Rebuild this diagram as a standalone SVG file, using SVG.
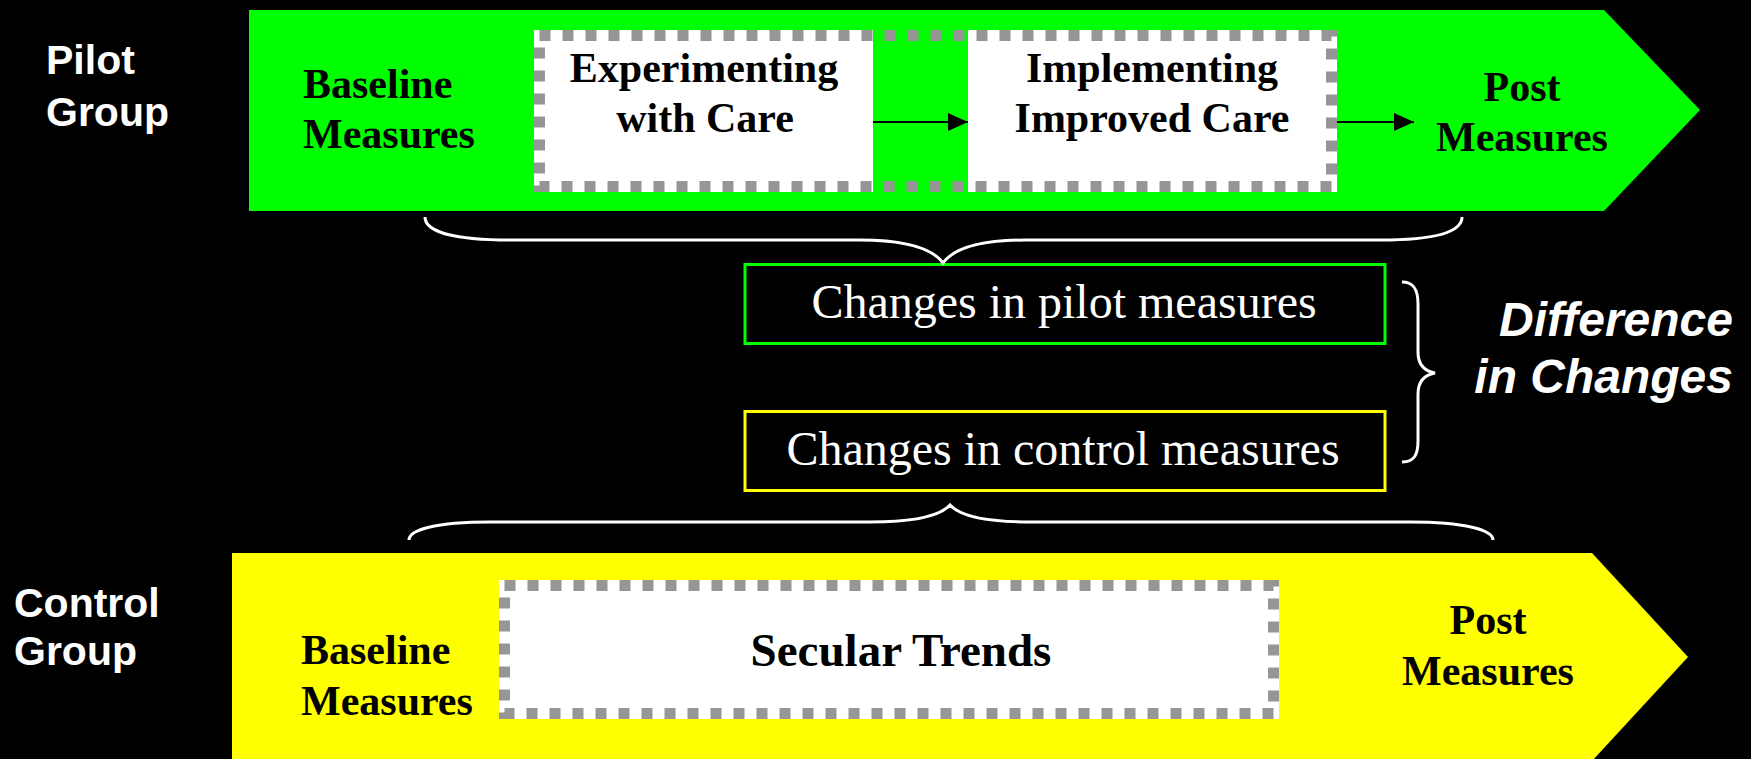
<svg xmlns="http://www.w3.org/2000/svg" width="1751" height="759" viewBox="0 0 1751 759">
  <style>
    .lbl { font-family: "Liberation Sans", Arial, sans-serif; font-weight: bold; fill: #ffffff; font-size: 41px; }
    .bold { font-family: "Liberation Serif", "Times New Roman", serif; font-weight: bold; fill: #000000; font-size: 42px; }
    .big { font-size: 47px; }
    .reg { font-family: "Liberation Serif", "Times New Roman", serif; fill: #ffffff; font-size: 48px; }
    .diff { font-family: "Liberation Sans", Arial, sans-serif; font-weight: bold; font-style: italic; fill: #ffffff; font-size: 48px; }
    .dash { fill: none; stroke: #969696; stroke-width: 11; stroke-dasharray: 11 12; }
    .brace { fill: none; stroke: #ffffff; stroke-width: 3; }
    .arrow { stroke: #000000; stroke-width: 2; fill: none; }
  </style>
  <defs>
    <marker id="ah" markerWidth="20" markerHeight="18" refX="20" refY="9" orient="auto" markerUnits="userSpaceOnUse">
      <path d="M0,0 L20,9 L0,18 Z" fill="#000000"/>
    </marker>
  </defs>
  <rect x="0" y="0" width="1751" height="759" fill="#000000"/>

  <g id="pilot-label">
    <text class="lbl" x="46" y="74">Pilot</text>
    <text class="lbl" x="46" y="126">Group</text>
  </g>
  <g id="control-label">
    <text class="lbl" x="14" y="617">Control</text>
    <text class="lbl" x="14" y="665">Group</text>
  </g>

  <g id="pilot-arrow">
    <polygon points="249,10 1604,10 1700,110 1604,211 249,211" fill="#00ff00"/>
    <text class="bold" x="303" y="98">Baseline</text>
    <text class="bold" x="303" y="148">Measures</text>
    <text class="bold" x="1522" y="101" text-anchor="middle">Post</text>
    <text class="bold" x="1522" y="151" text-anchor="middle">Measures</text>
  </g>

  <g id="pilot-steps">
    <rect x="534" y="30" width="339" height="162" fill="#ffffff"/>
    <rect x="968" y="30" width="369" height="162" fill="#ffffff"/>
    <rect class="dash" x="539.5" y="35.5" width="792" height="151"/>
  </g>
  <g id="experimenting">
    <text class="bold" x="704" y="82" text-anchor="middle">Experimenting</text>
    <text class="bold" x="705" y="132" text-anchor="middle">with Care</text>
  </g>
  <g id="implementing">
    <text class="bold" x="1152" y="82" text-anchor="middle">Implementing</text>
    <text class="bold" x="1152" y="132" text-anchor="middle">Improved Care</text>
  </g>

  <g id="control-arrow">
    <polygon points="232,553 1592,553 1688,657 1592,761 232,761" fill="#ffff00"/>
    <text class="bold" x="301" y="664">Baseline</text>
    <text class="bold" x="301" y="715">Measures</text>
    <text class="bold" x="1488" y="634" text-anchor="middle">Post</text>
    <text class="bold" x="1488" y="685" text-anchor="middle">Measures</text>
  </g>

  <g id="secular-trends">
    <rect x="499" y="580" width="780" height="139" fill="#ffffff"/>
    <rect class="dash" x="504.5" y="585.5" width="769" height="128"/>
    <text class="bold big" x="901" y="666" text-anchor="middle">Secular Trends</text>
  </g>

  <g id="pilot-changes">
    <rect x="745" y="264.5" width="640" height="79" fill="none" stroke="#00ff00" stroke-width="3"/>
    <text class="reg" x="1064" y="318" text-anchor="middle">Changes in pilot measures</text>
  </g>
  <g id="control-changes">
    <rect x="745" y="411.5" width="640" height="79" fill="none" stroke="#ffff00" stroke-width="3"/>
    <text class="reg" x="1063" y="465" text-anchor="middle">Changes in control measures</text>
  </g>

  <g id="difference">
    <text class="diff" x="1733" y="336" text-anchor="end">Difference</text>
    <text class="diff" x="1733" y="393" text-anchor="end">in Changes</text>
  </g>

  <g id="connectors">
    <line class="arrow" x1="873" y1="122" x2="968" y2="122" marker-end="url(#ah)"/>
    <line class="arrow" x1="1337" y1="122" x2="1414" y2="122" marker-end="url(#ah)"/>
    <path class="brace" d="M425,217 C425,232 455,240 510,240 L860,240 C905,240 932,248 943,263 C954,248 981,240 1026,240 L1380,240 C1435,240 1462,232 1462,217"/>
    <path class="brace" d="M409,540 C409,530 435,522 490,522 L870,522 C915,522 940,516 950,505 C960,516 985,522 1030,522 L1410,522 C1465,522 1493,530 1493,540"/>
    <path class="brace" d="M1402,282 C1414,282 1418,290 1418,304 L1418,352 C1418,365 1424,371 1435,373 C1424,375 1418,381 1418,394 L1418,441 C1418,455 1414,462 1402,462"/>
  </g>
</svg>
